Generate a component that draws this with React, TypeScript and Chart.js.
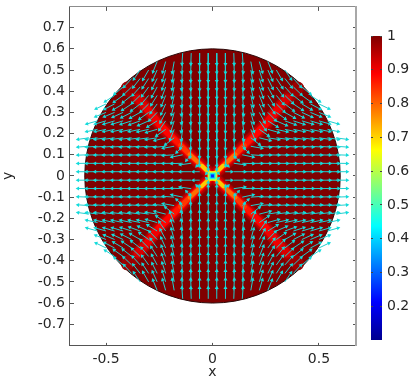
import React, { useEffect, useRef } from "react";
import { Chart, registerables } from "chart.js";

Chart.register(...registerables);

const xTicks = [-0.5, 0, 0.5];
const yTicks = [-0.7, -0.6, -0.5, -0.4, -0.3, -0.2, -0.1, 0, 0.1, 0.2, 0.3, 0.4, 0.5, 0.6, 0.7];
const barTicks = [0.2, 0.3, 0.4, 0.5, 0.6, 0.7, 0.8, 0.9, 1];

// jet colour map
const jetValues = [0.1, 0.2125, 0.4375, 0.6625, 0.8875, 1];
const jetColors = [
  [0, 0, 143],
  [0, 0, 255],
  [0, 255, 255],
  [255, 255, 0],
  [255, 0, 0],
  [128, 0, 0],
];

// disc edge, first quadrant
const discX = [0.6, 0.5977, 0.5909, 0.5796, 0.5638, 0.5438, 0.5196, 0.4915, 0.4596, 0.4243, 0.3857, 0.3441, 0.3, 0.2536, 0.2052, 0.1553, 0.1042, 0.0523, 0];
const discY = [0, 0.0523, 0.1042, 0.1553, 0.2052, 0.2536, 0.3, 0.3441, 0.3857, 0.4243, 0.4596, 0.4915, 0.5196, 0.5438, 0.5638, 0.5796, 0.5909, 0.5977, 0.6];

// ridge of the X, first quadrant
const ridgeX = [0, 0.05, 0.108, 0.15, 0.186, 0.249, 0.311, 0.35, 0.4];
const ridgeY = [0, 0.048, 0.102, 0.145, 0.18, 0.243, 0.321, 0.365, 0.415];

// ridge layers: last ridge index, field value, stroke width
const layerEnd = [8, 7, 7, 6, 5, 4, 3, 2, 1];
const layerValue = [0.975, 0.95, 0.92, 0.9, 0.885, 0.87, 0.84, 0.79, 0.71];
const layerWidth = [13, 11, 8, 7, 6, 5, 5, 4, 4];

// centre of the X
const coreValue = [0.68, 0.58, 0.47, 0.38, 0.25];
const coreRadius = [6, 5, 3.8, 2.8, 1.8];

// arrow grid, one quadrant
const gridCols = [0.02, 0.06, 0.1, 0.14, 0.18, 0.22, 0.26, 0.3, 0.34, 0.38, 0.42, 0.46, 0.5, 0.54, 0.58];
const gridRows = [0.58, 0.54, 0.5, 0.46, 0.42, 0.38, 0.34, 0.3, 0.26, 0.22, 0.18, 0.14, 0.1, 0.06, 0.02];
// arrow angle below the horizontal, degrees, upper-left quadrant
const arrowAngles = [
  [90, 89, 88, 86],
  [90, 89, 87, 85, 80, 74, 68],
  [90, 89, 87, 85, 80, 73, 66, 60, 56],
  [90, 89, 87, 84, 79, 72, 64, 57, 52, 48],
  [90, 89, 87, 84, 78, 70, 62, 54, 48, 44, 40],
  [90, 89, 87, 84, 77, 68, 58, 50, 44, 39, 36, 33],
  [90, 89, 87, 83, 76, 66, 54, 45, 38, 34, 31, 28, 26],
  [90, 89, 87, 83, 75, 62, 46, 36, 30, 27, 25, 23, 22],
  [90, 89, 87, 82, 73, 55, 32, 24, 20, 18, 17, 17, 16, 16],
  [90, 89, 87, 82, 68, 35, 16, 13, 12, 12, 12, 12, 12, 12],
  [90, 89, 86, 78, 38, 14, 9, 8, 8, 8, 8, 8, 8, 8, 8],
  [90, 89, 84, 45, 10, 5, 4, 4, 4, 4, 4, 4, 4, 4, 4],
  [90, 88, 50, 12, 4, 2, 2, 2, 2, 2, 2, 2, 2, 2, 2],
  [90, 45, 8, 2, 1, 1, 1, 1, 1, 1, 1, 1, 1, 1, 1],
  [45, 0, 0, 0, 0, 0, 0, 0, 0, 0, 0, 0, 0, 0, 0],
];
const arrowLength = 0.052;
// shorter arrows near the centre: row index, column index, length
const shortRows = [14, 14, 13, 13, 12, 11];
const shortCols = [0, 1, 0, 1, 2, 3];
const shortLens = [0.012, 0.03, 0.03, 0.02, 0.035, 0.04];

const TEXT = "#262626";
const FONT = { family: "'DejaVu Sans'", size: 14 };

function jet(v: number) {
  let i = 0;
  while (i < jetValues.length - 2 && v > jetValues[i + 1]) i++;
  const t = Math.max(0, Math.min(1, (v - jetValues[i]) / (jetValues[i + 1] - jetValues[i])));
  const c = jetColors[i].map((a, k) => Math.round(a + (jetColors[i + 1][k] - a) * t));
  return `rgb(${c[0]},${c[1]},${c[2]})`;
}

function discPoints() {
  const pts: { x: number; y: number }[] = [];
  const n = discX.length;
  for (let i = 0; i < n; i++) pts.push({ x: discX[i], y: discY[i] });
  for (let i = n - 2; i >= 0; i--) pts.push({ x: -discX[i], y: discY[i] });
  for (let i = 1; i < n; i++) pts.push({ x: -discX[i], y: -discY[i] });
  for (let i = n - 2; i >= 0; i--) pts.push({ x: discX[i], y: -discY[i] });
  return pts;
}

const quadrants = [
  [1, 1],
  [-1, 1],
  [-1, -1],
  [1, -1],
];

function ridgePoints(end: number) {
  const pts: { x: number; y: number }[] = [];
  for (const [sx, sy] of quadrants) {
    for (let i = 0; i <= end; i++) pts.push({ x: sx * ridgeX[i], y: sy * ridgeY[i] });
    pts.push({ x: NaN, y: NaN });
  }
  return pts;
}

function arrowData() {
  const shafts: { x: number; y: number }[] = [];
  const heads: { x: number; y: number }[] = [];
  const rotations: number[] = [];
  arrowAngles.forEach((row, r) => {
    row.forEach((deg, c) => {
      let len = arrowLength;
      shortRows.forEach((sr, k) => {
        if (sr === r && shortCols[k] === c) len = shortLens[k];
      });
      const a = (deg * Math.PI) / 180;
      for (const [sx, sy] of quadrants) {
        const x0 = sx * gridCols[c];
        const y0 = sy * gridRows[r];
        const dx = sx * Math.cos(a);
        const dy = -sy * Math.sin(a);
        const tip = { x: x0 + dx * len, y: y0 + dy * len };
        shafts.push({ x: x0, y: y0 }, tip, { x: NaN, y: NaN });
        heads.push(tip);
        rotations.push((Math.atan2(dx, dy) * 180) / Math.PI);
      }
    });
  });
  return { shafts, heads, rotations };
}

const noPad = (s: any) => {
  s.paddingTop = 0;
  s.paddingBottom = 0;
  s.paddingLeft = 0;
  s.paddingRight = 0;
};

export default function App() {
  const mainRef = useRef<HTMLCanvasElement>(null);
  const barRef = useRef<HTMLCanvasElement>(null);

  useEffect(() => {
    const { shafts, heads, rotations } = arrowData();
    const datasets: any[] = [];
    datasets.push({
      data: discPoints(),
      showLine: true,
      fill: "shape",
      backgroundColor: jet(1),
      borderColor: "#2a0808",
      borderWidth: 1,
      pointRadius: 0,
      order: 20,
    });
    layerEnd.forEach((end, i) => {
      datasets.push({
        data: ridgePoints(end),
        showLine: true,
        borderColor: jet(layerValue[i]),
        borderWidth: layerWidth[i],
        borderCapStyle: "round",
        borderJoinStyle: "round",
        pointRadius: 0,
        order: 19 - i,
      });
    });
    coreRadius.forEach((radius, i) => {
      datasets.push({
        data: [{ x: 0, y: 0 }],
        pointStyle: "rect",
        pointRadius: radius * 1.15,
        pointBackgroundColor: jet(coreValue[i]),
        pointBorderWidth: 0,
        showLine: false,
        order: 10 - i,
      });
    });
    datasets.push({
      data: shafts,
      showLine: true,
      borderColor: "#1fcfcf",
      borderWidth: 1,
      pointRadius: 0,
      order: 2,
    });
    datasets.push({
      data: heads,
      showLine: false,
      pointStyle: "triangle",
      pointRadius: 2.3,
      pointRotation: rotations,
      pointBackgroundColor: "#12dcdc",
      pointBorderWidth: 0,
      order: 1,
    });

    const main = new Chart(mainRef.current!, {
      type: "scatter",
      data: { datasets },
      options: {
        animation: false,
        responsive: false,
        layout: { padding: { top: 5, right: 59, left: 0, bottom: 0 } },
        plugins: { legend: { display: false }, tooltip: { enabled: false } },
        scales: {
          x: {
            type: "linear",
            min: -0.674,
            max: 0.674,
            afterBuildTicks: (s: any) => {
              s.ticks = xTicks.map((value) => ({ value }));
            },
            afterFit: (s: any) => {
              s.height = 37;
              noPad(s);
            },
            ticks: { font: FONT, color: TEXT, padding: 6, maxRotation: 0, callback: (v: any) => String(v) },
            grid: { color: "#555", tickLength: 0, lineWidth: 1 },
            border: { color: "#555", dash: [4, 332, 4, 0] },
            title: { display: true, text: "x", font: FONT, color: TEXT, padding: { top: 0, bottom: 1 } },
          },
          y: {
            type: "linear",
            min: -0.798,
            max: 0.798,
            afterBuildTicks: (s: any) => {
              s.ticks = yTicks.map((value) => ({ value }));
            },
            afterFit: (s: any) => {
              s.width = 69;
              noPad(s);
            },
            ticks: { font: FONT, color: TEXT, padding: 4, autoSkip: false, callback: (v: any) => String(v) },
            grid: { color: "#555", tickLength: 0, lineWidth: 1 },
            border: { color: "#555", dash: [4, 279, 4, 0] },
            title: { display: true, text: "y", font: FONT, color: TEXT, padding: { top: 0, bottom: 0 } },
          },
          x2: {
            type: "linear",
            position: "top",
            min: -0.674,
            max: 0.674,
            afterFit: (s: any) => {
              s.height = 0;
              noPad(s);
            },
            ticks: { display: false },
            grid: { display: false, tickLength: 0 },
            border: { color: "#8c8c8c", width: 1 },
          },
          y2: {
            type: "linear",
            position: "right",
            min: -0.798,
            max: 0.798,
            afterFit: (s: any) => {
              s.width = 0;
              noPad(s);
            },
            ticks: { display: false },
            grid: { display: false, tickLength: 0 },
            border: { color: "#a8a8a8", width: 2 },
          },
        },
      } as any,
    });

    const bar = new Chart(barRef.current!, {
      type: "bar",
      data: {
        labels: ["field"],
        datasets: [
          {
            data: [[jetValues[0], jetValues[jetValues.length - 1]]],
            barPercentage: 1,
            categoryPercentage: 1,
            borderWidth: 0,
            backgroundColor: (ctx: any) => {
              const area = ctx.chart.chartArea;
              if (!area) return jet(0.5);
              const g = ctx.chart.ctx.createLinearGradient(0, area.bottom, 0, area.top);
              const lo = jetValues[0];
              const hi = jetValues[jetValues.length - 1];
              jetValues.forEach((v, i) => {
                const c = jetColors[i];
                g.addColorStop((v - lo) / (hi - lo), `rgb(${c[0]},${c[1]},${c[2]})`);
              });
              return g;
            },
          },
        ],
      },
      options: {
        animation: false,
        responsive: false,
        layout: { padding: { top: 36, left: 371, bottom: 42, right: 0 } },
        plugins: { legend: { display: false }, tooltip: { enabled: false } },
        scales: {
          x: { display: false },
          y: {
            position: "right",
            min: jetValues[0],
            max: 1,
            afterBuildTicks: (s: any) => {
              s.ticks = barTicks.map((value) => ({ value }));
            },
            afterFit: (s: any) => {
              s.width = 33;
              noPad(s);
            },
            ticks: { font: FONT, color: TEXT, padding: 5, callback: (v: any) => String(v) },
            grid: { color: "#444", tickLength: 0, z: 1 },
            border: { display: false, dash: [2, 7, 2, 0] },
          },
        },
      } as any,
    });

    return () => {
      main.destroy();
      bar.destroy();
    };
  }, []);

  const style: React.CSSProperties = { position: "absolute", left: 0, top: 0, filter: "blur(0.35px)" };
  return (
    <div style={{ position: "absolute", left: 0, top: 0, width: 415, height: 382 }}>
      <canvas ref={mainRef} width={415} height={382} style={style} />
      <canvas ref={barRef} width={415} height={382} style={style} />
    </div>
  );
}
